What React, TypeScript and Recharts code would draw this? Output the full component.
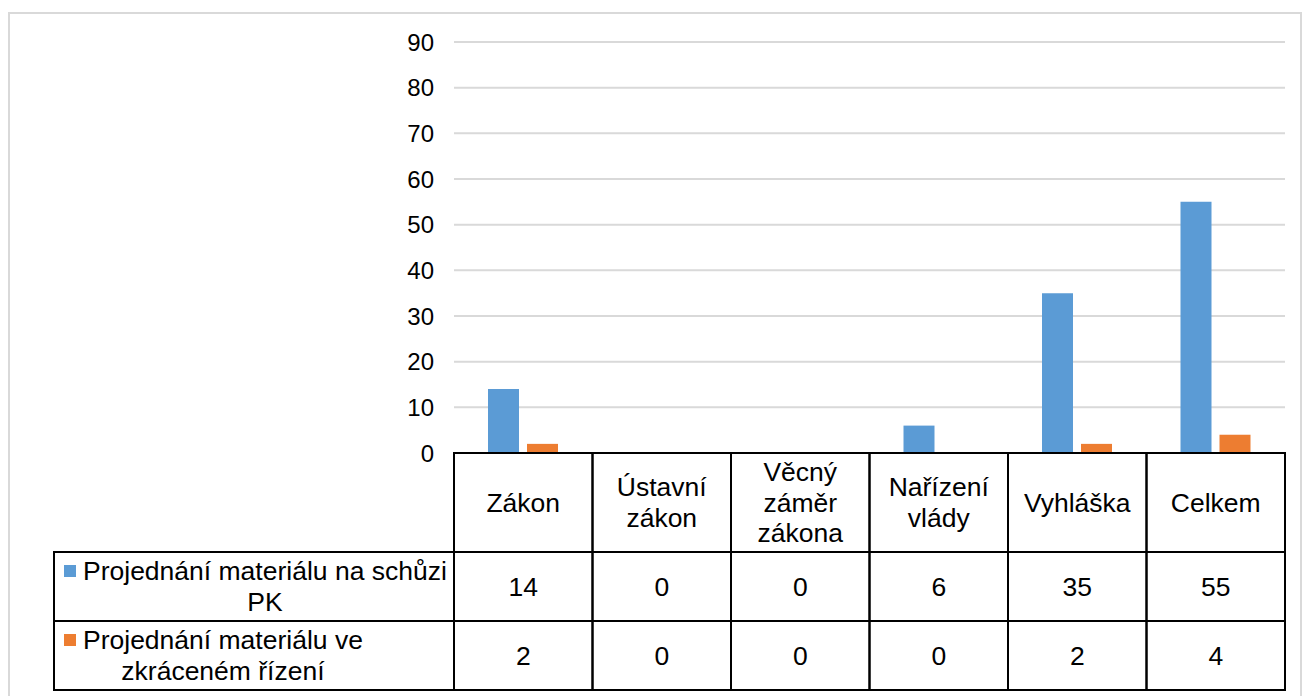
import React from "react";
import { Bar, BarChart, CartesianGrid, XAxis, YAxis } from "recharts";

const categories = ["Zákon", "Ústavní zákon", "Věcný záměr zákona", "Nařízení vlády", "Vyhláška", "Celkem"];
const seriesNames = ["Projednání materiálu na schůzi PK", "Projednání materiálu ve zkráceném řízení"];
// legend labels wrapped the way the data table wraps them
const legendLines = [
  ["Projednání materiálu na schůzi", "PK"],
  ["Projednání materiálu ve", "zkráceném řízení"],
];
const schuze = [14, 0, 0, 6, 35, 55];
const zkracene = [2, 0, 0, 0, 2, 4];
const yTicks = [0, 10, 20, 30, 40, 50, 60, 70, 80, 90];
const colors = ["#5b9bd5", "#ed7d31"];

const data = categories.map((name, i) => ({ name, schuze: schuze[i], zkracene: zkracene[i] }));

const FONT = '"Liberation Sans", Arial, sans-serif';
const TABLE_FS = 26.5;
const CHART_W = 1294;
const CHART_H = 684;
const margin = { top: 30, right: 17, bottom: 6, left: 386 };
const YAXIS_W = 60;
const PLOT_W = CHART_W - margin.left - margin.right - YAXIS_W;
const BAND = PLOT_W / categories.length;
const HEADER_H = 99;
const ROW_H = 69;
const LINE_H = 30.5;

const TableTick = (props: any) => {
  const { x, y, payload } = props;
  const i = payload.index;
  const half = BAND / 2;
  const lines = categories[i].split(" ");
  const startY = y + HEADER_H / 2 - ((lines.length - 1) * LINE_H) / 2;
  return (
    <g fontFamily={FONT} fontSize={TABLE_FS} fill="#000">
      <rect x={x - half} y={y} width={BAND} height={HEADER_H + 2 * ROW_H} fill="none" stroke="#000" strokeWidth={2} />
      <line x1={x - half} x2={x + half} y1={y + HEADER_H} y2={y + HEADER_H} stroke="#000" strokeWidth={2} />
      <line x1={x - half} x2={x + half} y1={y + HEADER_H + ROW_H} y2={y + HEADER_H + ROW_H} stroke="#000" strokeWidth={2} />
      {lines.map((l, k) => (
        <text key={k} x={x} y={startY + k * LINE_H} textAnchor="middle" dominantBaseline="central">
          {l}
        </text>
      ))}
      <text x={x} y={y + HEADER_H + ROW_H / 2} textAnchor="middle" dominantBaseline="central">
        {schuze[i]}
      </text>
      <text x={x} y={y + HEADER_H + ROW_H * 1.5} textAnchor="middle" dominantBaseline="central">
        {zkracene[i]}
      </text>
    </g>
  );
};

export default function App() {
  return (
    <div style={{ position: "absolute", left: 8, top: 12, width: CHART_W, height: CHART_H, fontFamily: FONT }}>
      <div
        style={{
          position: "absolute",
          left: 0,
          top: 0,
          width: CHART_W,
          height: 720,
          border: "2px solid #d9d9d9",
          boxSizing: "border-box",
        }}
      />
      <BarChart
        width={CHART_W}
        height={CHART_H}
        data={data}
        margin={margin}
        barSize={31}
        barGap={8}
        style={{ position: "absolute", left: 0, top: 0 }}
      >
        <CartesianGrid vertical={false} stroke="#d9d9d9" strokeWidth={2} />
        <XAxis
          dataKey="name"
          height={237}
          interval={0}
          tickLine={false}
          tickSize={0}
          tickMargin={0}
          axisLine={{ stroke: "#000", strokeWidth: 2 }}
          tick={<TableTick />}
        />
        <YAxis
          width={YAXIS_W}
          domain={[0, 90]}
          ticks={yTicks}
          axisLine={false}
          tickLine={false}
          tickSize={0}
          tickMargin={20}
          tick={{ fill: "#000", fontSize: 24, fontFamily: FONT }}
        />
        <Bar dataKey="schuze" name={seriesNames[0]} fill={colors[0]} isAnimationActive={false} />
        <Bar dataKey="zkracene" name={seriesNames[1]} fill={colors[1]} isAnimationActive={false} />
      </BarChart>
      <div
        style={{
          position: "absolute",
          left: 45,
          top: 539,
          width: 402,
          height: 140,
          border: "2px solid #000",
          boxSizing: "border-box",
          fontSize: TABLE_FS,
          color: "#000",
        }}
      >
        {legendLines.map((lines, k) => (
          <div
            key={k}
            style={{
              height: 67,
              display: "flex",
              alignItems: "center",
              paddingLeft: 9,
              borderBottom: k === 0 ? "2px solid #000" : "none",
            }}
          >
            <div style={{ display: "flex", alignItems: "flex-start" }}>
              <span
                style={{
                  width: 12,
                  height: 12,
                  background: colors[k],
                  marginRight: 7,
                  marginTop: (LINE_H - 12) / 2,
                  flex: "none",
                }}
              />
              <div style={{ textAlign: "center", lineHeight: `${LINE_H}px`, whiteSpace: "nowrap" }}>
                {lines.map((l) => (
                  <div key={l}>{l}</div>
                ))}
              </div>
            </div>
          </div>
        ))}
      </div>
    </div>
  );
}
